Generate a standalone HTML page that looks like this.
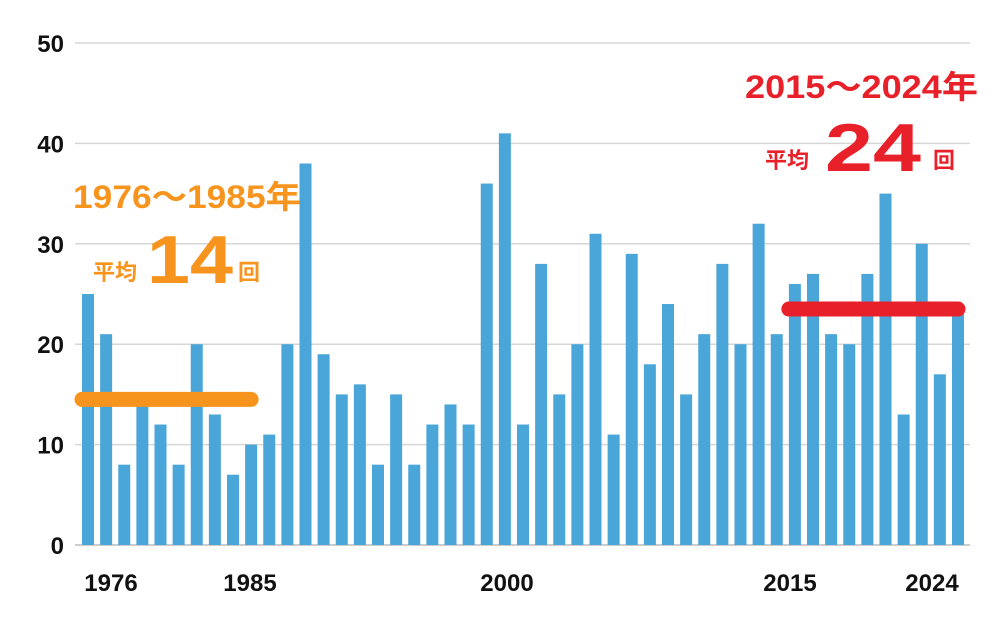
<!DOCTYPE html>
<html><head><meta charset="utf-8"><style>
html,body{margin:0;padding:0;background:#fff;width:1000px;height:620px;overflow:hidden}
svg text{font-family:"Liberation Sans","Noto Sans CJK JP",sans-serif;font-weight:bold}
</style></head><body>
<svg id="chart" width="1000" height="620" viewBox="0 0 1000 620" xmlns="http://www.w3.org/2000/svg">
<g id="grid"></g><g id="bars"></g><g id="avg"></g>
<g font-size="24" fill="#111">
<text x="111" y="591" text-anchor="middle">1976</text>
<text x="250" y="591" text-anchor="middle">1985</text>
<text x="507" y="591" text-anchor="middle">2000</text>
<text x="790" y="591" text-anchor="middle">2015</text>
<text x="932" y="591" text-anchor="middle">2024</text>
</g>
<g fill="#f7941d">
<text x="73" y="208" font-size="32" textLength="228" lengthAdjust="spacingAndGlyphs">1976～1985年</text>
<text x="93" y="280" font-size="22">平均</text>
<text x="147" y="283" font-size="68" textLength="86" lengthAdjust="spacingAndGlyphs">14</text>
<text x="238" y="280" font-size="22">回</text>
</g>
<g fill="#e8202a">
<text x="745" y="98" font-size="32" textLength="233" lengthAdjust="spacingAndGlyphs">2015～2024年</text>
<text x="765" y="168" font-size="22">平均</text>
<text x="825" y="171" font-size="68" textLength="96" lengthAdjust="spacingAndGlyphs">24</text>
<text x="933" y="168" font-size="22">回</text>
</g>
</svg>
<script>
const years=[];for(let y=1976;y<=2024;y++)years.push(y);
const counts=[25,21,8,14,12,8,20,13,7,10,11,20,38,19,15,16,8,15,8,12,14,12,36,41,12,28,15,20,31,11,29,18,24,15,21,28,20,32,21,26,27,21,20,27,35,13,30,17,23];
const yTicks=[0,10,20,30,40,50];
const avgStarts=[1976,2015];
const avgEnds=[1985,2024];
const avgValues=[14.5,23.5];
const avgColors=['#f7941d','#e8202a'];
const NS='http://www.w3.org/2000/svg';
const x=yr=>88+(yr-1976)*18.125;
const y=v=>545-v*10.04;
function mk(t,a,p){const e=document.createElementNS(NS,t);for(const k in a)e.setAttribute(k,a[k]);p.appendChild(e);return e;}
const grid=document.getElementById('grid');
yTicks.forEach(t=>{
 const l=mk('line',{x1:75,x2:970,y1:y(t),y2:y(t),stroke:t===0?'#bbb':'#d6d6d6','stroke-width':1.5},grid);
 
 
 const tx=mk('text',{x:64,y:y(t)+9,'text-anchor':'end','font-size':24,fill:'#111'},grid);
 tx.textContent=t;
 
 
});
const bars=document.getElementById('bars');
counts.forEach((c,i)=>{
 const r=mk('rect',{x:x(years[i])-6,y:y(c),width:12,height:y(0)-y(c),fill:'#4aa6d8'},bars);
 
 
});
const avg=document.getElementById('avg');
avgValues.forEach((v,i)=>{
 const l=mk('line',{x1:x(avgStarts[i])-6,x2:x(avgEnds[i])+0,y1:y(v),y2:y(v),stroke:avgColors[i],'stroke-width':15,'stroke-linecap':'round'},avg);
 
 
});
</script>
</body></html>
